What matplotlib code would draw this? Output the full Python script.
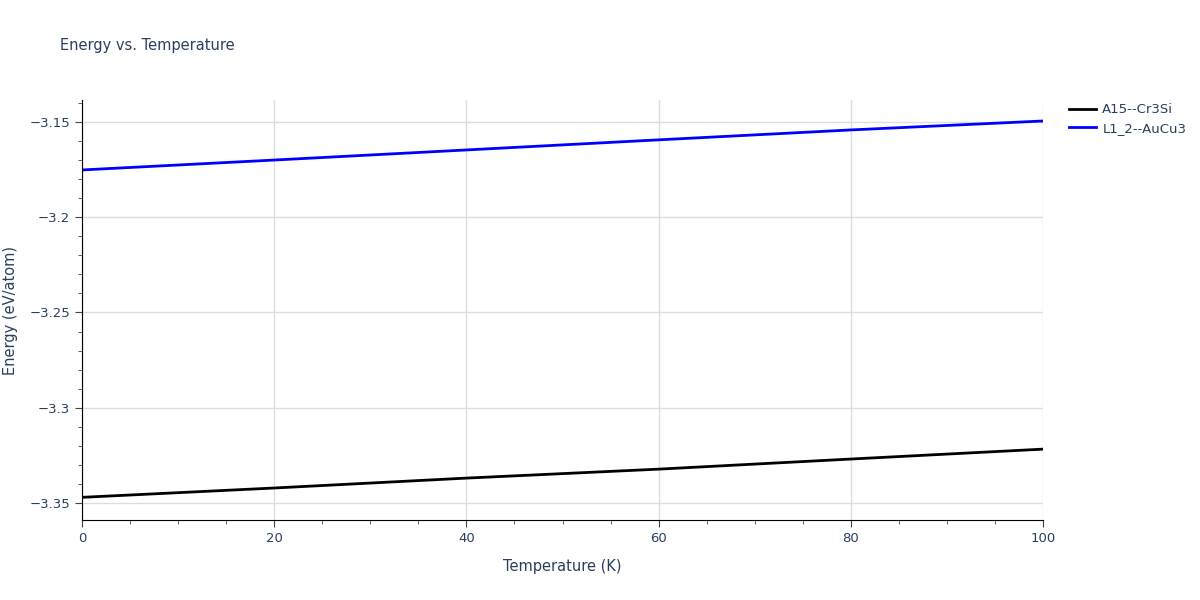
import matplotlib
matplotlib.use('Agg')
from matplotlib import pyplot as plt
from matplotlib.ticker import MultipleLocator

temperature = [0, 20, 40, 60, 80, 100]
energy_a15 = [-3.3470, -3.3421, -3.3369, -3.3322, -3.3269, -3.3217]
energy_l12 = [-3.1752, -3.1700, -3.1647, -3.1594, -3.1542, -3.1495]

text_color = '#2a3f5f'

fig = plt.figure(figsize=(12, 6), dpi=100)
ax = fig.add_axes([0.0683, 0.1333, 0.8009, 0.7])

ax.plot(temperature, energy_a15, color='black', lw=2, label='A15--Cr3Si')
ax.plot(temperature, energy_l12, color='blue', lw=2, label='L1_2--AuCu3')

ax.set_xlim(0, 100)
ax.set_ylim(-3.3589, -3.1385)
ax.xaxis.set_major_locator(MultipleLocator(20))
ax.xaxis.set_minor_locator(MultipleLocator(5))
ax.yaxis.set_minor_locator(MultipleLocator(0.01))
ax.set_yticks([-3.35, -3.3, -3.25, -3.2, -3.15])
ax.set_yticklabels(['\u22123.35', '\u22123.3', '\u22123.25', '\u22123.2', '\u22123.15'])

ax.grid(True, which='major', color='#dddddd', lw=1)
ax.set_axisbelow(True)
for s in ['top', 'right']:
    ax.spines[s].set_visible(False)
for s in ['left', 'bottom']:
    ax.spines[s].set_color('black')
ax.tick_params(which='both', direction='out', colors='#444444', labelcolor=text_color, labelsize=9.5)
ax.tick_params(which='major', length=5)
ax.tick_params(which='minor', length=3)

ax.set_xlabel('Temperature (K)', color=text_color, fontsize=10.5, labelpad=10)
ax.set_ylabel('Energy (eV/atom)', color=text_color, fontsize=10.5, labelpad=8)
fig.text(0.05, 0.917, 'Energy vs. Temperature', color=text_color, fontsize=10.5)

leg = ax.legend(loc='upper left', bbox_to_anchor=(1.015, 1.02), frameon=False, fontsize=9.5,
                handlelength=2.0, handletextpad=0.5, labelspacing=0.4, labelcolor=text_color)

plt.savefig('out.png')
